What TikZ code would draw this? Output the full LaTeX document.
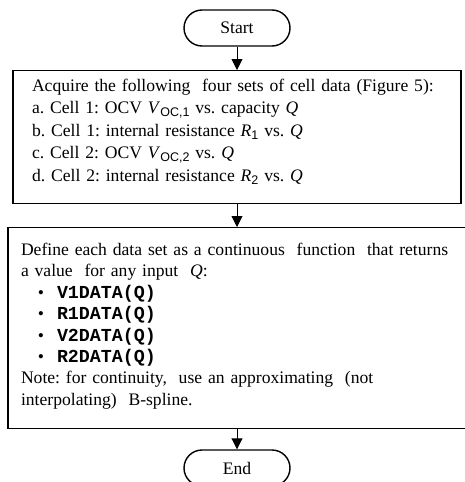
\documentclass[tikz,border=0pt]{standalone}
\usepackage{fontspec}
\setmainfont{Liberation Serif}
\setsansfont{Liberation Sans}
\setmonofont{Liberation Mono}
\usetikzlibrary{arrows.meta}
\frenchspacing

\newcommand{\mvar}[1]{\textit{#1}}
\newcommand{\lowidx}[1]{\raisebox{-0.35ex}{\fontsize{12.5pt}{12.5pt}\sffamily #1}}
\newcommand{\fcall}[1]{{\fontsize{18.3pt}{18.3pt}\ttfamily\bfseries #1}}
\newcommand{\bitem}[1]{\hspace*{17pt}\makebox[19pt][l]{\textbullet}\fcall{#1}}
\newcommand{\nohyph}{\hyphenpenalty=10000\relax\exhyphenpenalty=10000\relax}

\begin{document}
\begin{tikzpicture}[x=1pt, y=1pt, line width=1.4pt,
    font=\fontsize{17.6pt}{22.5pt}\selectfont\nohyph,
    term/.style={draw, rounded corners=18pt, minimum width=106pt, minimum height=36pt, inner sep=0pt},
    proc/.style={draw, align=left, anchor=north, inner ysep=0pt},
    flow/.style={-{Triangle[width=11pt, length=11pt]}, line width=0.9pt}]

    \useasboundingbox (0,0) rectangle (465,-482);

    \node[term] (start) at (237,-28) {Start};
    \node[proc, text width=410pt, inner xsep=19pt, minimum height=133pt] (acq) at (237,-70) {
        Acquire the following\ \ four sets of cell data (Figure 5):\\
        a. Cell 1: OCV \mvar{V}\lowidx{OC,1} vs. capacity \mvar{Q}\\
        b. Cell 1: internal\ resistance \mvar{R}\lowidx{1} vs. \mvar{Q}\\
        c. Cell 2: OCV \mvar{V}\lowidx{OC,2} vs. \mvar{Q}\\
        d. Cell 2: internal\ resistance \mvar{R}\lowidx{2} vs. \mvar{Q}\rule[-14pt]{0pt}{0pt}};
    \node[proc, text width=432pt, inner xsep=13pt, minimum height=201pt,
        font=\fontsize{17.6pt}{21.4pt}\selectfont\nohyph] (def) at (237,-227) {
        Define each data set as a continuous\ \ function\ \ that returns\\
        a value\ \ for any input\ \ \mvar{Q}:\\
        \bitem{V1DATA(Q)}\\
        \bitem{R1DATA(Q)}\\
        \bitem{V2DATA(Q)}\\
        \bitem{R2DATA(Q)}\\
        Note: for continuity,\ \ use an approximating\ \ (not\\
        interpolating)\ \ B-spline.\rule[-8pt]{0pt}{0pt}};
    \node[term] (end) at (237,-468) {End};

\path[flow]
        (start) edge (acq)
        (acq) edge (def)
        (def) edge (end)
;
\end{tikzpicture}
\end{document}
